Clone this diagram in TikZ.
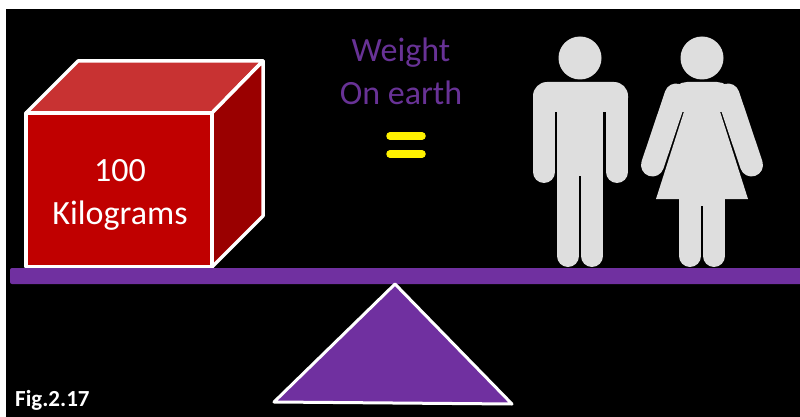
\documentclass[tikz,border=0pt]{standalone}
\usepackage{fontspec}
\setmainfont{Carlito}
\usepackage{xcolor}
\usepackage{tikz}
\definecolor{cBeam}{RGB}{112,48,160}
\definecolor{cWeight}{RGB}{104,50,150}
\definecolor{cFront}{RGB}{192,0,0}
\definecolor{cTop}{RGB}{200,50,50}
\definecolor{cSide}{RGB}{154,0,0}
\definecolor{cPerson}{RGB}{222,222,222}
\tikzset{
	cubeface/.style={draw=white, line width=3.5pt, line join=round},
	bigtext/.style ={font=\fontsize{34}{43}\selectfont, align=center, inner sep=0pt},
	person/.style  ={fill=cPerson, draw=none},
	limb/.style    ={draw=cPerson, line width=22pt, line cap=round},
	armlimb/.style ={draw=cPerson, line width=23pt, line cap=round},
	eqbar/.style   ={draw=yellow, line width=7.5pt, line cap=round},
}
\begin{document}
\begin{tikzpicture}[x=1pt, y=-1pt]
	\useasboundingbox (0,0) rectangle (800,417);
	\fill[white] (0,0) rectangle (800,417);
	\fill[black] (6,9) rectangle (800,417);
	% box
	\draw[cubeface, fill=cTop] (26,113) -- (78,61) -- (263,61) -- (212,113) -- cycle;
	\draw[cubeface, fill=cSide] (212,113) -- (263,61) -- (263,216) -- (212,267) -- cycle;
	\draw[cubeface, fill=cFront] (26,113) rectangle (212,267);
	\node[bigtext, text=white] (load) at (120,195) {100\\ Kilograms};
	% balance
	\fill[cBeam, rounded corners=2pt] (10,268) rectangle (810,284);
	\draw[cubeface, fill=cBeam, line width=3pt] (395,284) -- (512,404) -- (274,402) -- cycle;
	\node[bigtext, text=cWeight] (weight) at (401,71) {Weight\\ On earth};
	\coordinate (eqa) at (390,136);
	\coordinate (eqb) at (422,136);
	\coordinate (eqc) at (390,154);
	\coordinate (eqd) at (422,154);
	\draw[eqbar] (eqa) -- (eqb);
	\draw[eqbar] (eqc) -- (eqd);
	% man
	\fill[person] (580,58) circle (21.5);
	\fill[person, rounded corners=14pt] (533,112) -- (533,82) -- (628,82) -- (628,112) -- cycle;
	\fill[person] (557,100) rectangle (603,176);
	\draw[limb] (544,172) -- (544,100);
	\draw[limb] (617,172) -- (617,100);
	\draw[limb] (568,256) -- (568,170);
	\draw[limb] (592,256) -- (592,170);
	% woman
	\fill[person] (702,58) circle (21.5);
	\fill[person, rounded corners=12pt] (662,112) -- (675,82) -- (729,82) -- (742,112) -- cycle;
	\draw[armlimb] (676,95) -- (652.5,165);
	\draw[armlimb] (728,95) -- (751.5,165);
	\fill[person] (684.5,110) -- (719.5,110) -- (748,199) -- (656,199) -- cycle;
	\fill[person] (679,198) rectangle (725,206);
	\draw[limb] (690,256) -- (690,200);
	\draw[limb] (714,256) -- (714,200);
	\node[anchor=west, inner sep=0pt, text=white, font=\fontsize{23}{26}\selectfont\bfseries] (figlabel) at (15,400) {Fig.2.17};
\end{tikzpicture}
\end{document}
